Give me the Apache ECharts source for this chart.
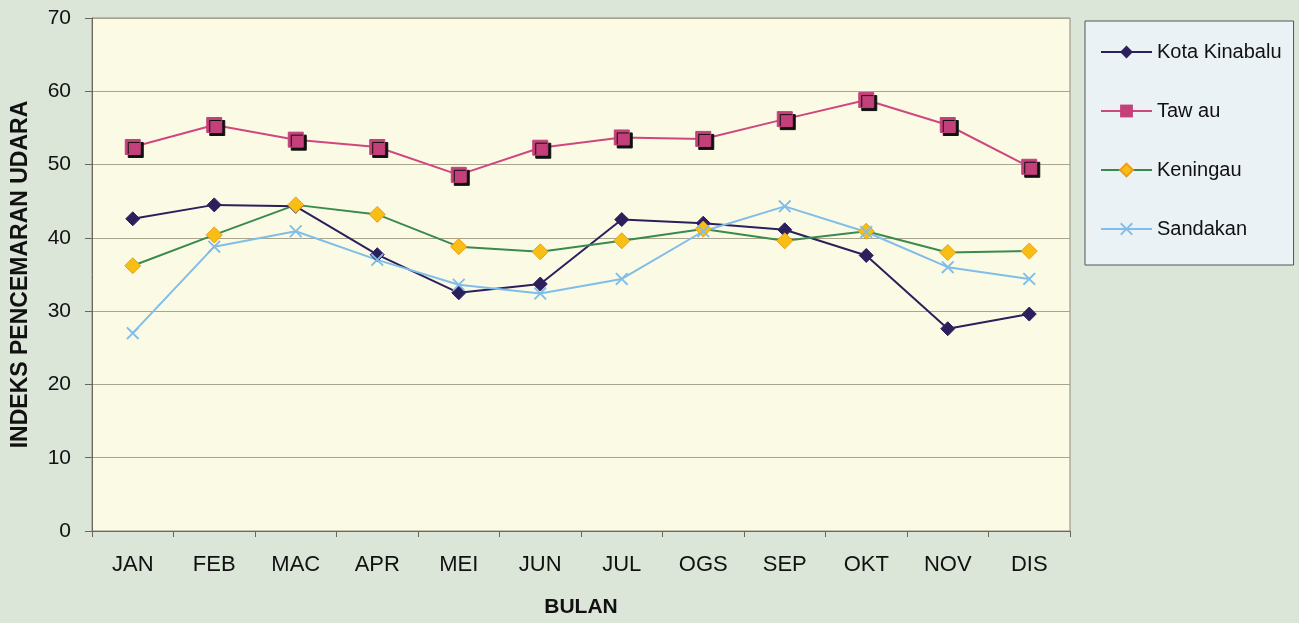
<!DOCTYPE html>
<html>
<head>
<meta charset="utf-8">
<script src="https://cdn.jsdelivr.net/npm/echarts@6/dist/echarts.min.js"></script>
<style>
  html, body { margin: 0; padding: 0; background: #dbe5d8; }
  #chart { width: 1299px; height: 623px; }
</style>
</head>
<body>
<div id="chart"></div>
<script>
const months = ['JAN', 'FEB', 'MAC', 'APR', 'MEI', 'JUN', 'JUL', 'OGS', 'SEP', 'OKT', 'NOV', 'DIS']
const kotaKinabalu = [42.6, 44.5, 44.3, 37.7, 32.5, 33.7, 42.5, 42.0, 41.1, 37.6, 27.6, 29.6]
const tawau = [52.4, 55.4, 53.4, 52.4, 48.6, 52.3, 53.7, 53.5, 56.2, 58.8, 55.4, 49.7]
const keningau = [36.2, 40.4, 44.5, 43.2, 38.8, 38.1, 39.6, 41.2, 39.6, 40.9, 38.0, 38.2]
const sandakan = [27.0, 38.8, 40.9, 37.0, 33.6, 32.4, 34.4, 40.9, 44.3, 40.8, 36.0, 34.4]

// cross marker drawn as a filled outline
const crossPath = 'path://M0,1L1,0L5,4L9,0L10,1L6,5L10,9L9,10L5,6L1,10L0,9L4,5Z'
const font = '"Liberation Sans", Arial, sans-serif'

const chart = echarts.init(document.getElementById('chart'))

chart.setOption({
  backgroundColor: '#dbe5d8',
  animation: false,
  textStyle: { fontFamily: font },
  grid: { left: 92, right: 229, top: 18, bottom: 92, show: true, backgroundColor: '#fbfbe5', borderColor: '#8c8a78', borderWidth: 1 },
  legend: {
    orient: 'vertical',
    left: 1085,
    top: 21,
    padding: [21, 12, 26, 15],
    itemGap: 39,
    itemWidth: 51,
    itemHeight: 16,
    backgroundColor: '#eaf2f5',
    borderColor: '#555555',
    borderWidth: 1,
    textStyle: { fontSize: 20, color: '#111111', fontFamily: font },
    data: ['Kota Kinabalu', 'Taw au', 'Keningau', 'Sandakan'],
  },
  xAxis: {
    type: 'category',
    data: months,
    boundaryGap: true,
    name: 'BULAN',
    nameLocation: 'middle',
    nameGap: 66,
    nameTextStyle: { fontSize: 21, fontWeight: 'bold', color: '#111111' },
    axisLine: { lineStyle: { color: '#6a6858', width: 1 } },
    axisTick: { show: true, length: 6, lineStyle: { color: '#6a6858' } },
    axisLabel: { fontSize: 22, color: '#111111', margin: 23 },
    splitLine: { show: false },
  },
  yAxis: {
    type: 'value',
    min: 0,
    max: 70,
    interval: 10,
    name: 'INDEKS PENCEMARAN UDARA',
    nameLocation: 'middle',
    nameGap: 60,
    nameTextStyle: { fontSize: 23, fontWeight: 'bold', color: '#111111' },
    axisLine: { show: true, lineStyle: { color: '#6a6858' } },
    axisTick: { show: true, length: 7, lineStyle: { color: '#6a6858' } },
    axisLabel: { fontSize: 21, color: '#111111', margin: 21 },
    splitLine: { lineStyle: { color: '#a9a48c', width: 1 } },
  },
  series: [
    {
      name: 'Kota Kinabalu',
      type: 'line',
      data: kotaKinabalu,
      symbol: 'diamond',
      symbolSize: 14,
      lineStyle: { color: '#2b1f5c', width: 2 },
      itemStyle: { color: '#2b1f5c', borderColor: '#2b1f5c' },
    },
    {
      name: 'Taw au',
      type: 'line',
      data: tawau,
      symbol: 'rect',
      symbolSize: 15,
      lineStyle: { color: '#d0467f', width: 2 },
      itemStyle: {
        color: '#c4407a',
        borderColor: '#c4407a',
        shadowColor: '#111111',
        shadowOffsetX: 3,
        shadowOffsetY: 3,
        shadowBlur: 0,
      },
    },
    {
      name: 'Keningau',
      type: 'line',
      data: keningau,
      symbol: 'diamond',
      symbolSize: 16,
      lineStyle: { color: '#3a8a4e', width: 2 },
      itemStyle: { color: '#f7bf14', borderColor: '#f29a1a', borderWidth: 1 },
    },
    {
      name: 'Sandakan',
      type: 'line',
      data: sandakan,
      symbol: crossPath,
      symbolSize: 13,
      lineStyle: { color: '#80bde8', width: 2 },
      itemStyle: { color: '#80bde8', borderColor: '#80bde8', borderWidth: 0 },
    },
  ],
})
</script>
</body>
</html>
